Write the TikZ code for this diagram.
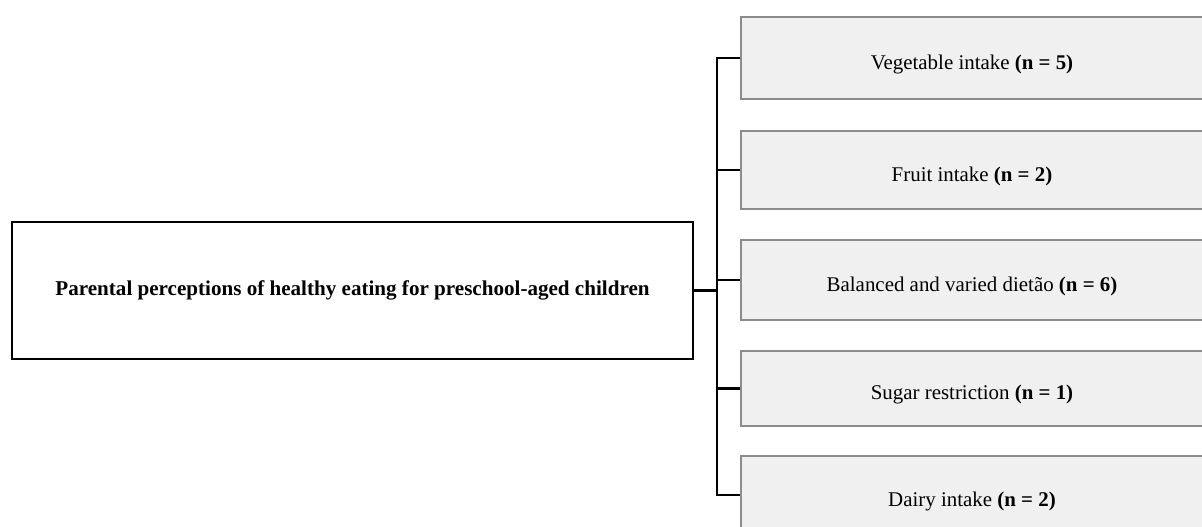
\documentclass[tikz,border=0pt]{standalone}
\usepackage{fontspec}
\setmainfont{Liberation Serif}
\usepackage{tikz}

\definecolor{boxfill}{HTML}{F0F0F0}
\definecolor{boxline}{HTML}{8C8C8C}
\tikzset{
  mainbox/.style={draw=black, line width=1.5pt, minimum width=13.62cm, minimum height=2.74cm, font=\fontsize{12}{14}\selectfont\bfseries},
  topicbox/.style={draw=boxline, fill=boxfill, line width=.8pt, minimum width=9.24cm, text height=13pt, text depth=0pt, font=\fontsize{11.9}{14}\selectfont},
  link/.style={line width=1.4pt}
}

\begin{document}
\begin{tikzpicture}
\useasboundingbox (0,0) rectangle (24.04,-10.54);
\clip (0,0) rectangle (24.04,-10.54);
\node[mainbox] (main) at (7.05,-5.81) {Parental perceptions of healthy eating for preschool-aged children};
\coordinate (spine) at (14.34,0);
\node[topicbox, minimum height=1.64cm] (b1) at (19.44,-1.16) {Vegetable intake \textbf{(n = 5)}};
\node[topicbox, minimum height=1.56cm] (b2) at (19.44,-3.40) {Fruit intake \textbf{(n = 2)}};
\node[topicbox, minimum height=1.60cm] (b3) at (19.44,-5.60) {Balanced and varied dietão \textbf{(n = 6)}};
\node[topicbox, minimum height=1.50cm] (b4) at (19.44,-7.77) {Sugar restriction \textbf{(n = 1)}};
\node[topicbox, minimum height=1.56cm] (b5) at (19.44,-9.90) {Dairy intake \textbf{(n = 2)}};
\draw[link] (b1.west) -- (b1.west -| spine) -- (b5.west -| spine) -- (b5.west);
\foreach \i in {2,3,4}
  \draw[link] (b\i.west -| spine) -- (b\i.west);
\draw[link] (main.east) -- (main.east -| spine);
\end{tikzpicture}
\end{document}
